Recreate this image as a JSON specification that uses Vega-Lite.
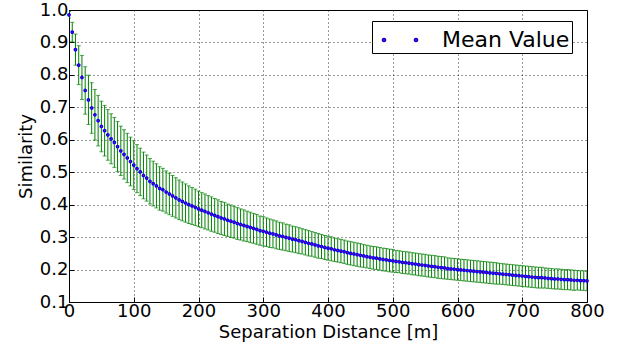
{
  "$schema": "https://vega.github.io/schema/vega-lite/v6.json",
  "width": 518,
  "height": 292,
  "autosize": {"type": "none"},
  "padding": {"left": 69, "top": 10, "right": 36, "bottom": 45},
  "background": "white",
  "data": {"values": [
    {"x":0,"m":0.985,"e":0.010},{"x":5,"m":0.932,"e":0.030},{"x":10,"m":0.878,"e":0.048},{"x":15,"m":0.830,"e":0.060},{"x":20,"m":0.792,"e":0.068},
    {"x":25,"m":0.752,"e":0.073},{"x":30,"m":0.723,"e":0.076},{"x":35,"m":0.698,"e":0.078},{"x":40,"m":0.677,"e":0.078},{"x":45,"m":0.659,"e":0.078},
    {"x":50,"m":0.641,"e":0.078},{"x":55,"m":0.628,"e":0.078},{"x":60,"m":0.615,"e":0.078},{"x":65,"m":0.603,"e":0.077},{"x":70,"m":0.592,"e":0.077},
    {"x":75,"m":0.579,"e":0.077},{"x":80,"m":0.566,"e":0.076},{"x":85,"m":0.555,"e":0.076},{"x":90,"m":0.544,"e":0.076},{"x":95,"m":0.533,"e":0.075},
    {"x":100,"m":0.522,"e":0.075},{"x":105,"m":0.511,"e":0.074},{"x":110,"m":0.501,"e":0.073},{"x":115,"m":0.490,"e":0.072},{"x":120,"m":0.482,"e":0.071},
    {"x":125,"m":0.472,"e":0.070},{"x":130,"m":0.465,"e":0.069},{"x":135,"m":0.458,"e":0.068},{"x":140,"m":0.450,"e":0.067},{"x":145,"m":0.446,"e":0.066},
    {"x":150,"m":0.439,"e":0.065},{"x":155,"m":0.433,"e":0.064},{"x":160,"m":0.427,"e":0.063},{"x":165,"m":0.421,"e":0.062},{"x":170,"m":0.415,"e":0.061},
    {"x":175,"m":0.410,"e":0.060},{"x":180,"m":0.405,"e":0.059},{"x":185,"m":0.400,"e":0.058},{"x":190,"m":0.396,"e":0.057},{"x":195,"m":0.392,"e":0.056},
    {"x":200,"m":0.387,"e":0.055},{"x":205,"m":0.383,"e":0.054},{"x":210,"m":0.379,"e":0.054},{"x":215,"m":0.375,"e":0.053},{"x":220,"m":0.371,"e":0.053},
    {"x":225,"m":0.367,"e":0.052},{"x":230,"m":0.363,"e":0.052},{"x":235,"m":0.359,"e":0.051},{"x":240,"m":0.356,"e":0.051},{"x":245,"m":0.352,"e":0.050},
    {"x":250,"m":0.349,"e":0.050},{"x":255,"m":0.346,"e":0.049},{"x":260,"m":0.342,"e":0.049},{"x":265,"m":0.339,"e":0.048},{"x":270,"m":0.336,"e":0.048},
    {"x":275,"m":0.333,"e":0.047},{"x":280,"m":0.330,"e":0.047},{"x":285,"m":0.327,"e":0.046},{"x":290,"m":0.324,"e":0.046},{"x":295,"m":0.320,"e":0.045},
    {"x":300,"m":0.318,"e":0.045},{"x":305,"m":0.315,"e":0.044},{"x":310,"m":0.312,"e":0.044},{"x":315,"m":0.310,"e":0.043},{"x":320,"m":0.307,"e":0.043},
    {"x":325,"m":0.304,"e":0.042},{"x":330,"m":0.302,"e":0.042},{"x":335,"m":0.299,"e":0.041},{"x":340,"m":0.297,"e":0.041},{"x":345,"m":0.294,"e":0.040},
    {"x":350,"m":0.292,"e":0.040},{"x":355,"m":0.289,"e":0.040},{"x":360,"m":0.287,"e":0.039},{"x":365,"m":0.284,"e":0.039},{"x":370,"m":0.281,"e":0.039},
    {"x":375,"m":0.279,"e":0.038},{"x":380,"m":0.276,"e":0.038},{"x":385,"m":0.273,"e":0.038},{"x":390,"m":0.271,"e":0.037},{"x":395,"m":0.268,"e":0.037},
    {"x":400,"m":0.266,"e":0.037},{"x":405,"m":0.264,"e":0.037},{"x":410,"m":0.261,"e":0.036},{"x":415,"m":0.259,"e":0.036},{"x":420,"m":0.257,"e":0.036},
    {"x":425,"m":0.255,"e":0.036},{"x":430,"m":0.252,"e":0.036},{"x":435,"m":0.250,"e":0.036},{"x":440,"m":0.248,"e":0.036},{"x":445,"m":0.246,"e":0.036},
    {"x":450,"m":0.244,"e":0.036},{"x":455,"m":0.242,"e":0.035},{"x":460,"m":0.240,"e":0.035},{"x":465,"m":0.238,"e":0.035},{"x":470,"m":0.236,"e":0.035},
    {"x":475,"m":0.235,"e":0.035},{"x":480,"m":0.233,"e":0.035},{"x":485,"m":0.231,"e":0.035},{"x":490,"m":0.230,"e":0.035},{"x":495,"m":0.228,"e":0.035},
    {"x":500,"m":0.227,"e":0.035},{"x":505,"m":0.225,"e":0.034},{"x":510,"m":0.224,"e":0.034},{"x":515,"m":0.222,"e":0.034},{"x":520,"m":0.221,"e":0.034},
    {"x":525,"m":0.220,"e":0.034},{"x":530,"m":0.218,"e":0.034},{"x":535,"m":0.217,"e":0.034},{"x":540,"m":0.215,"e":0.034},{"x":545,"m":0.214,"e":0.034},
    {"x":550,"m":0.213,"e":0.034},{"x":555,"m":0.211,"e":0.034},{"x":560,"m":0.210,"e":0.034},{"x":565,"m":0.209,"e":0.034},{"x":570,"m":0.207,"e":0.034},
    {"x":575,"m":0.206,"e":0.034},{"x":580,"m":0.205,"e":0.034},{"x":585,"m":0.203,"e":0.033},{"x":590,"m":0.202,"e":0.033},{"x":595,"m":0.201,"e":0.033},
    {"x":600,"m":0.200,"e":0.033},{"x":605,"m":0.199,"e":0.033},{"x":610,"m":0.198,"e":0.033},{"x":615,"m":0.197,"e":0.033},{"x":620,"m":0.196,"e":0.033},
    {"x":625,"m":0.195,"e":0.033},{"x":630,"m":0.194,"e":0.033},{"x":635,"m":0.193,"e":0.033},{"x":640,"m":0.192,"e":0.033},{"x":645,"m":0.191,"e":0.033},
    {"x":650,"m":0.190,"e":0.033},{"x":655,"m":0.189,"e":0.033},{"x":660,"m":0.188,"e":0.033},{"x":665,"m":0.187,"e":0.032},{"x":670,"m":0.186,"e":0.032},
    {"x":675,"m":0.185,"e":0.032},{"x":680,"m":0.184,"e":0.032},{"x":685,"m":0.183,"e":0.032},{"x":690,"m":0.182,"e":0.032},{"x":695,"m":0.181,"e":0.032},
    {"x":700,"m":0.180,"e":0.032},{"x":705,"m":0.179,"e":0.032},{"x":710,"m":0.178,"e":0.032},{"x":715,"m":0.177,"e":0.032},{"x":720,"m":0.176,"e":0.032},
    {"x":725,"m":0.175,"e":0.032},{"x":730,"m":0.175,"e":0.032},{"x":735,"m":0.174,"e":0.031},{"x":740,"m":0.173,"e":0.031},{"x":745,"m":0.172,"e":0.031},
    {"x":750,"m":0.171,"e":0.031},{"x":755,"m":0.171,"e":0.031},{"x":760,"m":0.170,"e":0.031},{"x":765,"m":0.169,"e":0.031},{"x":770,"m":0.169,"e":0.031},
    {"x":775,"m":0.168,"e":0.031},{"x":780,"m":0.167,"e":0.031},{"x":785,"m":0.167,"e":0.030},{"x":790,"m":0.166,"e":0.030},{"x":795,"m":0.166,"e":0.030},
    {"x":800,"m":0.165,"e":0.030}
  ]},
  "encoding": {
    "x": {"field": "x", "type": "quantitative", "scale": {"domain": [0, 800], "nice": false},
          "axis": {"values": [0,100,200,300,400,500,600,700,800], "title": "Separation Distance [m]", "titlePadding": 3, "labelPadding": 5, "tickSize": -5, "grid": true, "labelOverlap": false}},
    "y": {"field": "m", "type": "quantitative", "scale": {"domain": [0.1, 1.0], "nice": false, "zero": false},
          "axis": {"tickCount": 10, "format": ".1f", "title": "Similarity", "titlePadding": 4, "labelPadding": 6, "tickSize": -5, "grid": true, "labelOverlap": false, "labelBound": false}}
  },
  "layer": [
    {
      "mark": {"type": "errorbar", "color": "#008000", "thickness": 1, "ticks": {"size": 4, "color": "#008000"}, "clip": true},
      "encoding": {
        "yError": {"field": "e"}
      }
    },
    {
      "mark": {"type": "point", "filled": true, "size": 6, "stroke": "blue", "strokeWidth": 1.3, "opacity": 1},
      "encoding": {
        "fill": {"datum": "Mean Value", "type": "nominal", "scale": {"range": ["red"]},
                 "legend": {"title": null, "orient": "none", "legendX": 303, "legendY": 11, "padding": 2,
                            "strokeColor": "black", "fillColor": "white",
                            "symbolType": "M -1.1 0 A 0.1 0.1 0 1 0 -0.9 0 A 0.1 0.1 0 1 0 -1.1 0 Z M 0.9 0 A 0.1 0.1 0 1 0 1.1 0 A 0.1 0.1 0 1 0 0.9 0 Z",
                            "symbolSize": 1024, "symbolStrokeColor": "blue", "symbolStrokeWidth": 1.5, "symbolOffset": 9,
                            "labelFontSize": 22, "labelOffset": 25, "labelColor": "black", "labelFont": "DejaVu Sans"}}
      }
    }
  ],
  "config": {
    "font": "DejaVu Sans",
    "view": {"stroke": "black", "strokeWidth": 1},
    "axis": {"labelFontSize": 18, "titleFontSize": 18, "titleFontWeight": "normal", "labelColor": "black", "titleColor": "black",
             "domainColor": "black", "tickColor": "black", "gridColor": "black", "gridDash": [1, 3], "gridOpacity": 0.8,
             "labelFlush": false, "labelOverlap": false}
  }
}
